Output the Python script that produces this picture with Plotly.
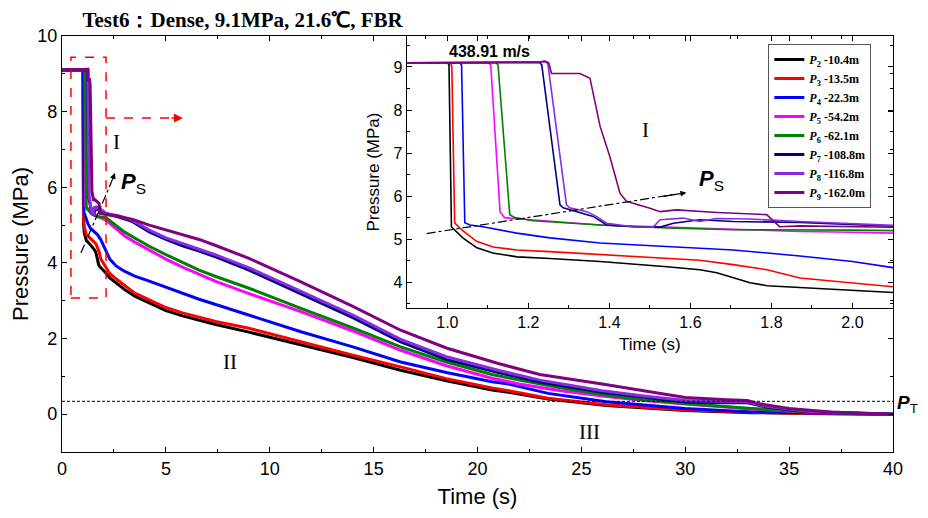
import plotly.graph_objects as go

# ---------------- data ----------------
LABELS = ["<i>P</i><sub>2</sub> -10.4m", "<i>P</i><sub>3</sub> -13.5m", "<i>P</i><sub>4</sub> -22.3m",
          "<i>P</i><sub>5</sub> -54.2m", "<i>P</i><sub>6</sub> -62.1m", "<i>P</i><sub>7</sub> -108.8m",
          "<i>P</i><sub>8</sub> -116.8m", "<i>P</i><sub>9</sub> -162.0m"]
COLORS = ["#000000", "#FF0000", "#0000FF", "#FF00FF", "#008000", "#000080", "#8A2BE2", "#800080"]

T_P2 = [0, 0.9, 1.0, 1.004, 1.01, 1.038, 1.073, 1.112, 1.172, 1.253, 1.377, 1.542, 1.623, 1.665, 1.705, 1.747,
        1.789, 1.87, 2.0, 2.1, 2.3, 2.6, 3, 3.5, 4.2, 5, 5.8, 6.6, 7.4, 9, 11.5, 14, 16.3, 18.5, 20.7, 21.5,
        23.4, 26.2, 30, 33.2, 36, 40]
P_P2 = [9.1, 9.1, 9.1, 9.05, 5.29, 5.03, 4.80, 4.68, 4.59, 4.55, 4.48, 4.36, 4.29, 4.22, 4.10, 3.99,
        3.92, 3.87, 3.80, 3.74, 3.60, 3.47, 3.30, 3.12, 2.95, 2.74, 2.60, 2.48, 2.37, 2.17, 1.84, 1.50, 1.16,
        0.88, 0.64, 0.58, 0.40, 0.23, 0.10, 0.04, 0.02, 0.0]

T_P3 = [0, 0.9, 1.008, 1.011, 1.018, 1.035, 1.072, 1.113, 1.171, 1.253, 1.377, 1.541, 1.623, 1.705, 1.789,
        1.87, 2.0, 2.1, 2.3, 2.6, 3, 3.5, 4.2, 5, 5.8, 6.6, 7.4, 9, 11.5, 14, 16.3, 18.5, 20.7, 21.5, 23.4,
        26.2, 30, 33.2, 36, 40]
P_P3 = [9.1, 9.1, 9.1, 9.0, 5.38, 5.22, 4.95, 4.82, 4.75, 4.71, 4.64, 4.55, 4.51, 4.41, 4.29,
        4.10, 3.98, 3.90, 3.72, 3.58, 3.40, 3.20, 3.02, 2.82, 2.68, 2.56, 2.45, 2.27, 1.91, 1.56, 1.25, 0.94,
        0.69, 0.62, 0.42, 0.25, 0.11, 0.05, 0.02, 0.0]

T_P4 = [0, 0.9, 1.03, 1.035, 1.043, 1.056, 1.088, 1.171, 1.253, 1.377, 1.541, 1.705, 1.87, 2.0, 2.1, 2.3,
        2.6, 3, 3.5, 4.2, 5, 5.8, 6.6, 7.4, 9, 11.5, 14, 16.3, 18.5, 20.7, 21.5, 23.4, 26.2, 30, 33.2, 36, 40]
P_P4 = [9.1, 9.1, 9.1, 9.05, 5.38, 5.33, 5.29, 5.14, 5.03, 4.91, 4.83, 4.75, 4.61, 4.48, 4.34, 4.10,
        3.92, 3.78, 3.65, 3.52, 3.36, 3.19, 3.04, 2.90, 2.62, 2.18, 1.78, 1.38, 1.10, 0.86, 0.80, 0.55, 0.33,
        0.15, 0.06, 0.03, 0.0]

T_P5 = [0, 0.9, 1.10, 1.107, 1.13, 1.141, 1.211, 1.377, 1.541, 1.705, 1.87, 2.0, 2.1, 2.3, 2.6, 3, 3.5,
        4.2, 5, 5.8, 6.6, 7.4, 9, 11.5, 14, 16.3, 18.5, 20.7, 22, 24, 26.2, 28, 30, 33.2, 36, 40]
P_P5 = [9.1, 9.1, 9.1, 9.05, 5.64, 5.50, 5.45, 5.33, 5.28, 5.23, 5.18, 5.16, 5.14, 5.05, 4.92, 4.72, 4.55,
        4.34, 4.10, 3.89, 3.69, 3.51, 3.19, 2.71, 2.20, 1.69, 1.28, 0.95, 0.80, 0.62, 0.47, 0.36, 0.27, 0.14,
        0.05, 0.0]

T_P6 = [0, 0.9, 1.12, 1.125, 1.154, 1.167, 1.211, 1.377, 1.541, 1.705, 1.87, 2.0, 2.1, 2.3, 2.6, 3, 3.5,
        4.2, 5, 5.8, 6.6, 7.4, 9, 11.5, 14, 16.3, 18.5, 20.7, 22, 24, 26.2, 28, 30, 33.2, 36, 40]
P_P6 = [9.1, 9.1, 9.1, 9.05, 5.57, 5.50, 5.43, 5.33, 5.26, 5.22, 5.22, 5.21, 5.20, 5.12, 5.00, 4.82, 4.66,
        4.44, 4.22, 4.01, 3.81, 3.64, 3.33, 2.80, 2.28, 1.78, 1.38, 1.05, 0.90, 0.70, 0.50, 0.38, 0.28, 0.15,
        0.05, 0.0]

T_P7 = [0, 0.9, 1.228, 1.233, 1.278, 1.286, 1.327, 1.36, 1.393, 1.458, 1.525, 1.558, 1.623, 1.705, 1.87,
        2.0, 2.1, 2.3, 2.7, 3.4, 4.2, 5, 5.8, 6.6, 7.4, 9, 11.5, 14, 16.3, 18.5, 21, 23, 26, 28, 30, 32, 33,
        34, 36, 40]
P_P7 = [9.1, 9.1, 9.1, 9.05, 5.80, 5.73, 5.61, 5.53, 5.33, 5.29, 5.28, 5.37, 5.45, 5.41, 5.39,
        5.33, 5.30, 5.27, 5.22, 5.09, 4.82, 4.62, 4.45, 4.31, 4.16, 3.81, 3.19, 2.55, 1.91, 1.45, 1.10, 0.85,
        0.58, 0.45, 0.32, 0.30, 0.30, 0.18, 0.06, 0.0]

T_P8 = [0, 0.9, 1.243, 1.248, 1.294, 1.302, 1.344, 1.368, 1.393, 1.458, 1.508, 1.525, 1.582, 1.623, 1.664,
        1.746, 1.87, 2.0, 2.1, 2.3, 2.7, 3.4, 4.2, 5, 5.8, 6.6, 7.4, 9, 11.5, 14, 16.3, 18.5, 21, 23, 26, 28,
        30, 32, 33, 34, 36, 40]
P_P8 = [9.1, 9.1, 9.12, 9.08, 5.80, 5.73, 5.64, 5.53, 5.37, 5.29, 5.28, 5.45, 5.49, 5.41, 5.48,
        5.47, 5.41, 5.35, 5.32, 5.29, 5.25, 5.12, 4.87, 4.66, 4.50, 4.36, 4.21, 3.87, 3.25, 2.62, 1.98, 1.52,
        1.16, 0.90, 0.62, 0.48, 0.36, 0.33, 0.33, 0.20, 0.07, 0.0]

T_P9 = [0, 0.9, 1.23, 1.24, 1.25, 1.257, 1.327, 1.352, 1.377, 1.401, 1.426, 1.442, 1.50, 1.525, 1.566,
        1.665, 1.788, 1.805, 1.82, 1.87, 2.0, 2.1, 2.6, 3.4, 4.2, 5, 5.8, 6.6, 7.4, 9, 11.5, 14, 16.3, 18.5,
        21, 23, 26, 28, 30, 32, 33, 33.5, 35, 37, 40]
P_P9 = [9.1, 9.1, 9.12, 9.14, 9.1, 8.85, 8.85, 8.74, 7.62, 6.92, 6.07, 5.88, 5.72, 5.64, 5.68,
        5.62, 5.57, 5.41, 5.29, 5.31, 5.29, 5.28, 5.25, 5.15, 5.00, 4.88, 4.75, 4.62, 4.46, 4.12, 3.50, 2.85,
        2.22, 1.75, 1.34, 1.05, 0.80, 0.62, 0.44, 0.38, 0.36, 0.28, 0.15, 0.06, 0.0]

SERIES_T = [T_P2, T_P3, T_P4, T_P5, T_P6, T_P7, T_P8, T_P9]
SERIES_P = [P_P2, P_P3, P_P4, P_P5, P_P6, P_P7, P_P8, P_P9]

MAIN_XTICKS = [0, 5, 10, 15, 20, 25, 30, 35, 40]
MAIN_YTICKS = [0, 2, 4, 6, 8, 10]
INSET_XTICKS = [1.0, 1.2, 1.4, 1.6, 1.8, 2.0]
INSET_YTICKS = [4, 5, 6, 7, 8, 9]
P_T_LEVEL = 0.34

TITLE = "Test6：Dense, 9.1MPa, 21.6℃, FBR"
SPEED_TEXT = "438.91 m/s"

SANS = "Liberation Sans, Arial, sans-serif"
SERIF = "Liberation Serif, Times New Roman, serif"

fig = go.Figure()

# main traces (thick)
for t, p, c, lab in zip(SERIES_T, SERIES_P, COLORS, LABELS):
    fig.add_trace(go.Scatter(x=t, y=p, mode="lines", line=dict(color=c, width=3),
                             name=lab, xaxis="x", yaxis="y", showlegend=True))
# inset traces (thin)
for t, p, c, lab in zip(SERIES_T, SERIES_P, COLORS, LABELS):
    fig.add_trace(go.Scatter(x=t, y=p, mode="lines", line=dict(color=c, width=1.6),
                             name=lab, xaxis="x2", yaxis="y2", showlegend=False))

axis_common = dict(showline=True, linecolor="black", linewidth=1.3, mirror="allticks",
                   ticks="inside", tickcolor="black", ticklen=5, tickwidth=1,
                   showgrid=False, zeroline=False, automargin=False)

# the page body adds an 8px offset; the figure is sized so it fits the window without scrolling
fig.update_layout(
    width=920, height=502,
    margin=dict(l=54, r=35, t=28, b=58),
    paper_bgcolor="white", plot_bgcolor="rgba(0,0,0,0)",
    title=dict(text="<b>" + TITLE + "</b>", x=0.255, xanchor="center", y=0.976, yanchor="middle",
               font=dict(family=SERIF, size=21, color="black")),
    xaxis=dict(domain=[0, 1], range=[0, 40], tickvals=MAIN_XTICKS,
               minor=dict(ticks="inside", ticklen=3, dtick=2.5, tick0=0, tickcolor="black"),
               tickfont=dict(family=SANS, size=18, color="black"),
               title=dict(text="Time (s)", font=dict(family=SANS, size=22, color="black"), standoff=10),
               **axis_common),
    yaxis=dict(domain=[0, 1], range=[-1, 10], tickvals=MAIN_YTICKS,
               minor=dict(ticks="inside", ticklen=3, dtick=1, tick0=0, tickcolor="black"),
               tickfont=dict(family=SANS, size=18, color="black"),
               title=dict(text="Pressure (MPa)", font=dict(family=SANS, size=22, color="black"), standoff=6),
               **axis_common),
    xaxis2=dict(domain=[0.415, 1.0], anchor="y2", range=[0.9, 2.1], tickvals=INSET_XTICKS,
                ticktext=["%.1f" % v for v in INSET_XTICKS],
                minor=dict(ticks="inside", ticklen=3, dtick=0.1, tick0=0.9, tickcolor="black"),
                tickfont=dict(family=SANS, size=16, color="black"),
                title=dict(text="Time (s)", font=dict(family=SANS, size=17, color="black"), standoff=7),
                **axis_common),
    yaxis2=dict(domain=[0.346, 1.0], anchor="x2", range=[3.4, 9.72], tickvals=INSET_YTICKS,
                minor=dict(ticks="inside", ticklen=3, dtick=0.5, tick0=0, tickcolor="black"),
                tickfont=dict(family=SANS, size=16, color="black"),
                title=dict(text="Pressure (MPa)", font=dict(family=SANS, size=17, color="black"), standoff=9),
                **axis_common),
    legend=dict(x=0.85, y=0.981, xanchor="left", yanchor="top", bgcolor="white",
                bordercolor="#555555", borderwidth=1, itemwidth=30, tracegroupgap=0,
                font=dict(family=SERIF, size=12, color="black", weight="bold")),
    showlegend=True,
)

shapes = []
# red dashed box and arrow (main)
shapes.append(dict(type="rect", xref="x", yref="y", x0=0.43, x1=2.12, y0=3.07, y1=9.44,
                   line=dict(color="red", width=1.5, dash="dash")))
shapes.append(dict(type="line", xref="x", yref="y", x0=2.12, x1=5.4, y0=7.83, y1=7.83,
                   line=dict(color="red", width=1.5, dash="dash")))
# dash-dot P_S arrow (main)
shapes.append(dict(type="line", xref="x", yref="y", x0=0.91, y0=4.26, x1=2.35, y1=6.1,
                   line=dict(color="black", width=1.2, dash="dashdot")))
# P_T dashed line
shapes.append(dict(type="line", xref="x", yref="y", x0=0, x1=40, y0=P_T_LEVEL, y1=P_T_LEVEL,
                   line=dict(color="black", width=1, dash="3px,2px")))
# dash-dot P_S arrow (inset)
shapes.append(dict(type="line", xref="x2", yref="y2", x0=0.949, y0=5.13, x1=1.56, y1=6.04,
                   line=dict(color="black", width=1.2, dash="dashdot")))
fig.update_layout(shapes=shapes)

ann = []
# arrowheads
ann.append(dict(xref="x", yref="y", axref="x", ayref="y", x=5.82, y=7.83, ax=5.2, ay=7.83, text="",
                showarrow=True, arrowhead=2, arrowsize=1.2, arrowwidth=1.5, arrowcolor="red"))
ann.append(dict(xref="x", yref="y", axref="x", ayref="y", x=2.55, y=6.38, ax=2.3, ay=6.03, text="",
                showarrow=True, arrowhead=2, arrowsize=1, arrowwidth=1.2, arrowcolor="black"))
ann.append(dict(xref="x2", yref="y2", axref="x2", ayref="y2", x=1.59, y=6.08, ax=1.53, ay=5.99, text="",
                showarrow=True, arrowhead=2, arrowsize=1, arrowwidth=1.2, arrowcolor="black"))
# text labels main
ann.append(dict(xref="x", yref="y", x=2.6, y=7.2, text="I", showarrow=False,
                font=dict(family=SERIF, size=21, color="black")))
ann.append(dict(xref="x", yref="y", x=8.08, y=1.38, text="II", showarrow=False,
                font=dict(family=SERIF, size=21, color="black")))
ann.append(dict(xref="x", yref="y", x=25.4, y=-0.48, text="III", showarrow=False,
                font=dict(family=SERIF, size=21, color="black")))
ann.append(dict(xref="x", yref="y", x=3.45, y=6.1, text="<b><i>P</i></b><sub>S</sub>", showarrow=False,
                font=dict(family=SANS, size=22, color="black")))
ann.append(dict(xref="paper", yref="y", x=1.0, xanchor="left", xshift=3, y=0.28,
                text="<b><i>P</i></b><sub>T</sub>", showarrow=False, borderpad=0,
                font=dict(family=SANS, size=19, color="black")))
# inset labels
ann.append(dict(xref="x2", yref="y2", x=1.105, y=9.37, text="<b>" + SPEED_TEXT + "</b>", showarrow=False,
                font=dict(family=SANS, size=16, color="black")))
ann.append(dict(xref="x2", yref="y2", x=1.488, y=7.54, text="I", showarrow=False,
                font=dict(family=SERIF, size=21, color="black")))
ann.append(dict(xref="x2", yref="y2", x=1.653, y=6.38, text="<b><i>P</i></b><sub>S</sub>", showarrow=False,
                font=dict(family=SANS, size=22, color="black")))
fig.update_layout(annotations=ann)

fig.write_html("out.html")
